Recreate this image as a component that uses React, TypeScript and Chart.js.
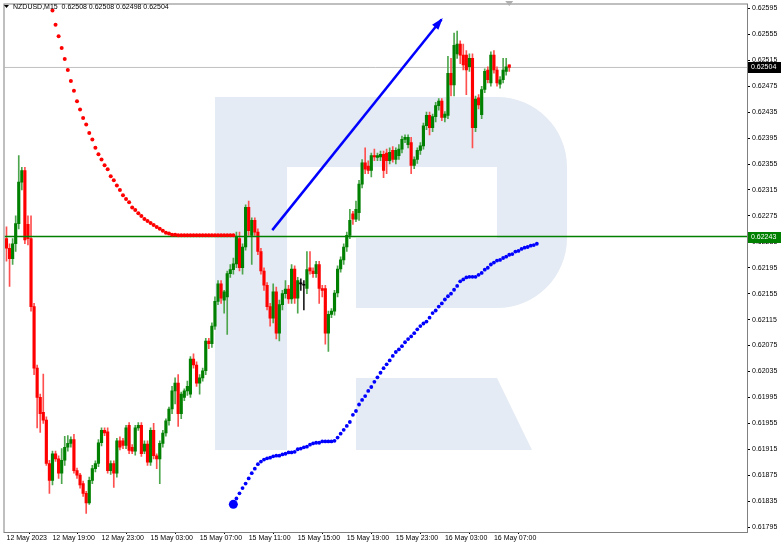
import React, { useEffect, useRef } from 'react';
import { Chart, registerables } from 'chart.js';

Chart.register(...registerables);

const symbolTitle = 'NZDUSD,M15';

const barOpen = [
  0.6224, 0.62225, 0.62209, 0.62232, 0.62263, 0.62327, 0.62345, 0.62262, 0.6224, 0.62135,
  0.6204, 0.61995, 0.61972, 0.6196, 0.61893, 0.61867, 0.61908, 0.619, 0.61878, 0.61898,
  0.61918, 0.61924, 0.6193, 0.61882, 0.61875, 0.61862, 0.61847, 0.61832, 0.61867, 0.61885,
  0.61893, 0.61925, 0.61944, 0.61942, 0.61882, 0.61893, 0.61878, 0.61928, 0.61928, 0.61921,
  0.61952, 0.61918, 0.61912, 0.61948, 0.61952, 0.61912, 0.61923, 0.61895, 0.61944, 0.61905,
  0.619, 0.61924, 0.6194, 0.61959, 0.61977, 0.62005, 0.62017, 0.6197, 0.61995, 0.62005,
  0.62, 0.62054, 0.62045, 0.62017, 0.62025, 0.62036, 0.62082, 0.62078, 0.62105, 0.62143,
  0.6217, 0.62145, 0.6215, 0.62186, 0.62192, 0.62201, 0.6224, 0.62195, 0.62227, 0.62288,
  0.62245, 0.62268, 0.6225, 0.6222, 0.6219, 0.62168, 0.62135, 0.62117, 0.62158, 0.62094,
  0.62138, 0.62155, 0.62162, 0.62147, 0.62193, 0.62148, 0.6217, 0.62168, 0.62163, 0.62195,
  0.6219, 0.62186, 0.622, 0.62163, 0.62163, 0.62094, 0.62123, 0.62128, 0.62156, 0.62193,
  0.62207, 0.62227, 0.62245, 0.62278, 0.6227, 0.6228, 0.62324, 0.62357, 0.62352, 0.62345,
  0.62368, 0.62365, 0.62366, 0.6237, 0.62372, 0.6236, 0.62376, 0.62362, 0.62368, 0.62378,
  0.62393, 0.62385, 0.62388, 0.62353, 0.62362, 0.62376, 0.62383, 0.62414, 0.6243, 0.62411,
  0.62428, 0.62445, 0.62452, 0.62427, 0.6243, 0.62495, 0.62477, 0.62525, 0.6254, 0.62523,
  0.62523, 0.62505, 0.62518, 0.62411, 0.62457, 0.62431, 0.6247, 0.625, 0.6248, 0.62523,
  0.625, 0.62478, 0.62485, 0.62498, 0.62508,
];

const barHigh = [
  0.62258, 0.62232, 0.6224, 0.62275, 0.62368, 0.6235, 0.6235, 0.62275, 0.62275, 0.6214,
  0.62045, 0.62, 0.62031, 0.61965, 0.61898, 0.61912, 0.61912, 0.61905, 0.61916, 0.61935,
  0.61936, 0.61934, 0.61938, 0.61886, 0.61878, 0.61866, 0.6185, 0.61872, 0.6189, 0.61897,
  0.6193, 0.61948, 0.61948, 0.61948, 0.61897, 0.61897, 0.61932, 0.61934, 0.61932, 0.61952,
  0.61956, 0.61922, 0.61952, 0.61956, 0.61956, 0.61928, 0.61928, 0.61948, 0.61955, 0.61908,
  0.61928, 0.61944, 0.61962, 0.6198, 0.62012, 0.62025, 0.6203, 0.62003, 0.62008, 0.6202,
  0.62058, 0.62062, 0.6205, 0.6203, 0.6204, 0.62086, 0.62086, 0.6211, 0.6215, 0.62175,
  0.62175, 0.6216, 0.6219, 0.622, 0.6221, 0.6225, 0.6225, 0.62232, 0.62292, 0.62298,
  0.62272, 0.62272, 0.62255, 0.62225, 0.62195, 0.62172, 0.6214, 0.6217, 0.62165, 0.62145,
  0.6216, 0.62175, 0.62168, 0.622, 0.62198, 0.6218, 0.62178, 0.62175, 0.6222, 0.6222,
  0.62195, 0.62205, 0.62205, 0.62168, 0.62168, 0.62128, 0.62132, 0.6216, 0.62198, 0.62212,
  0.62232, 0.6225, 0.62285, 0.62282, 0.62298, 0.6233, 0.62362, 0.6238, 0.6236, 0.62372,
  0.62378, 0.62372, 0.62375, 0.62375, 0.62378, 0.6238, 0.62382, 0.6238, 0.62385, 0.62398,
  0.624, 0.624, 0.62396, 0.62366, 0.6238, 0.62388, 0.62418, 0.62435, 0.62435, 0.62432,
  0.6245, 0.62456, 0.62456, 0.62436, 0.62521, 0.62518, 0.62557, 0.6256, 0.62545, 0.6254,
  0.6253, 0.62525, 0.62525, 0.6246, 0.62462, 0.62475, 0.62502, 0.62505, 0.62528, 0.6253,
  0.62505, 0.6249, 0.62518, 0.62518, 0.62508,
];

const barLow = [
  0.62205, 0.62166, 0.622, 0.6222, 0.62255, 0.62315, 0.62232, 0.6223, 0.62128, 0.6203,
  0.61948, 0.61941, 0.61955, 0.6189, 0.61847, 0.6186, 0.61896, 0.6187, 0.61862, 0.6189,
  0.61912, 0.61918, 0.61878, 0.6187, 0.61855, 0.61842, 0.61816, 0.6183, 0.61862, 0.6188,
  0.61888, 0.6192, 0.61936, 0.61878, 0.61876, 0.61856, 0.61872, 0.61914, 0.61916, 0.61916,
  0.61908, 0.61908, 0.61906, 0.61944, 0.61904, 0.61908, 0.6189, 0.6189, 0.619, 0.61885,
  0.61862, 0.61918, 0.61935, 0.61952, 0.6197, 0.61985, 0.6195, 0.61962, 0.6199, 0.61998,
  0.61995, 0.6204, 0.62012, 0.62, 0.6202, 0.6203, 0.6207, 0.62072, 0.621, 0.62138,
  0.6214, 0.62125, 0.62092, 0.6218, 0.62185, 0.62195, 0.6219, 0.62185, 0.62222, 0.62245,
  0.622, 0.62245, 0.62215, 0.62185, 0.6216, 0.6213, 0.62105, 0.6211, 0.62085, 0.62082,
  0.6213, 0.62148, 0.6214, 0.6214, 0.6214, 0.62125, 0.6216, 0.6213, 0.62155, 0.62185,
  0.6218, 0.6218, 0.6214, 0.6215, 0.62077, 0.62066, 0.62118, 0.62122, 0.6215, 0.62188,
  0.622, 0.6222, 0.6224, 0.62262, 0.62266, 0.62268, 0.62318, 0.6234, 0.6234, 0.62335,
  0.6236, 0.6236, 0.6236, 0.62334, 0.6234, 0.62355, 0.62358, 0.62355, 0.62362, 0.62372,
  0.62388, 0.6238, 0.6234, 0.62348, 0.62356, 0.6237, 0.62378, 0.62408, 0.624, 0.62405,
  0.6242, 0.62438, 0.62422, 0.6242, 0.62425, 0.6246, 0.6246, 0.62518, 0.6251, 0.625,
  0.62462, 0.62498, 0.6238, 0.62405, 0.6244, 0.62425, 0.62465, 0.6248, 0.62475, 0.62495,
  0.62475, 0.62472, 0.6248, 0.62492, 0.62498,
];

const barClose = [
  0.62225, 0.62209, 0.62232, 0.62263, 0.62327, 0.62345, 0.62238, 0.6224, 0.62135, 0.6204,
  0.61995, 0.6197, 0.6196, 0.61893, 0.61867, 0.61908, 0.619, 0.61878, 0.61898, 0.61918,
  0.61924, 0.6193, 0.61882, 0.61875, 0.6186, 0.61847, 0.61832, 0.61867, 0.61885, 0.61893,
  0.61925, 0.61944, 0.6194, 0.61882, 0.61893, 0.61878, 0.61928, 0.61918, 0.61921, 0.61948,
  0.61913, 0.61912, 0.61948, 0.61952, 0.61908, 0.61923, 0.61895, 0.61944, 0.61905, 0.619,
  0.61924, 0.6194, 0.61959, 0.61977, 0.62005, 0.62017, 0.6197, 0.62, 0.62005, 0.62012,
  0.62054, 0.62045, 0.62017, 0.62025, 0.62036, 0.62082, 0.62078, 0.62105, 0.62143, 0.6217,
  0.62148, 0.62158, 0.62186, 0.62192, 0.62201, 0.62243, 0.62195, 0.62227, 0.62288, 0.62252,
  0.62268, 0.6225, 0.6222, 0.6219, 0.62168, 0.62135, 0.62117, 0.62158, 0.62094, 0.62138,
  0.62155, 0.62162, 0.62147, 0.62193, 0.62148, 0.62175, 0.6217, 0.62168, 0.62192, 0.6219,
  0.62186, 0.622, 0.62163, 0.6216, 0.62094, 0.62123, 0.62128, 0.62156, 0.62193, 0.62207,
  0.62227, 0.62245, 0.62268, 0.6227, 0.62285, 0.62324, 0.62357, 0.62347, 0.62345, 0.62368,
  0.62366, 0.62368, 0.6237, 0.62345, 0.6236, 0.62373, 0.62362, 0.62376, 0.62378, 0.62393,
  0.62396, 0.62396, 0.62353, 0.62362, 0.62376, 0.62383, 0.62414, 0.6243, 0.62411, 0.62428,
  0.62445, 0.62452, 0.62427, 0.62432, 0.62495, 0.62477, 0.62538, 0.6254, 0.62523, 0.62508,
  0.625, 0.62518, 0.62411, 0.62455, 0.62446, 0.6247, 0.62498, 0.62485, 0.62523, 0.625,
  0.6248, 0.62485, 0.625, 0.62505, 0.62504,
];

const xTickBars = [0, 15, 31, 47, 63, 79, 95, 111, 127, 143, 159];
const xTickLabels = [
  '12 May 2023', '12 May 19:00', '12 May 23:00', '15 May 03:00', '15 May 07:00',
  '15 May 11:00', '15 May 15:00', '15 May 19:00', '15 May 23:00', '16 May 03:00', '16 May 07:00',
];

const yTickValues = [
  0.61795, 0.61835, 0.61875, 0.61915, 0.61955, 0.61995, 0.62035, 0.62075, 0.62115, 0.62155,
  0.62195, 0.62235, 0.62275, 0.62315, 0.62355, 0.62395, 0.62435, 0.62475, 0.62515, 0.62555, 0.62595,
];

const redStartBar = 15;
const redDots = [
  0.62592, 0.6257, 0.62552, 0.62534, 0.62517, 0.625, 0.62483, 0.62468, 0.62452, 0.62439,
  0.62426, 0.62416, 0.62403, 0.62393, 0.6238, 0.6237, 0.62362, 0.62353, 0.62347, 0.62336,
  0.6233, 0.62322, 0.62315, 0.62307, 0.62301, 0.62296, 0.62288, 0.62284, 0.62279, 0.62275,
  0.6227, 0.62267, 0.62264, 0.62261, 0.62258, 0.62255, 0.62252, 0.62249, 0.62248, 0.62246,
  0.62246, 0.62245, 0.62245, 0.62245, 0.62245, 0.62245, 0.62245, 0.62245, 0.62245, 0.62245,
  0.62245, 0.62245, 0.62245, 0.62245, 0.62245, 0.62245, 0.62245, 0.62245, 0.62245, 0.62245,
];

const blueStartBar = 74;
const blueDots = [
  0.6183, 0.61839, 0.61847, 0.61855, 0.61862, 0.6187, 0.61878, 0.61885, 0.61892, 0.61896,
  0.61899, 0.61901, 0.61902, 0.61904, 0.61905, 0.61905, 0.61907, 0.61908, 0.6191, 0.6191,
  0.61911, 0.61915, 0.61916, 0.61918, 0.61919, 0.61922, 0.61924, 0.61925, 0.61925, 0.61927,
  0.61927, 0.61927, 0.61927, 0.61928, 0.61933, 0.61939, 0.61945, 0.61951, 0.61957, 0.61968,
  0.61974, 0.61984, 0.61991, 0.61997, 0.62005, 0.62011, 0.62019, 0.62026, 0.62033, 0.6204,
  0.62046, 0.62052, 0.62059, 0.62065, 0.62069, 0.62074, 0.6208, 0.62085, 0.62089, 0.62094,
  0.621, 0.62105, 0.62109, 0.62112, 0.62118, 0.62125, 0.62129, 0.62135, 0.6214, 0.62146,
  0.62151, 0.62155, 0.62161, 0.62167, 0.62174, 0.62177, 0.6218, 0.62181, 0.62181, 0.62181,
  0.62184, 0.62187, 0.62192, 0.62195, 0.622, 0.62203, 0.62206, 0.62207, 0.6221, 0.62212,
  0.62215, 0.62216, 0.6222, 0.62221, 0.62224, 0.62226, 0.62227, 0.62229, 0.6223, 0.62232,
];

const levelPrice = 0.62243;
const lastPrice = 0.62504;
const arrowStart = { bar: 86.7, price: 0.62253 };
const arrowEnd = { bar: 141.9, price: 0.62578 };

const X_MIN = -0.65;
const X_MAX = 241.55;
const Y_MIN = 0.617873;
const Y_MAX = 0.626011;

const FONT = '"Liberation Sans", Arial, sans-serif';

export default function App() {
  const ref = useRef<HTMLCanvasElement>(null);

  useEffect(() => {
    const canvas = ref.current;
    if (!canvas) return;
    const idx = barOpen.map((_, i) => i);
    const bodyColor = idx.map((i) =>
      barClose[i] > barOpen[i] ? '#008000' : barClose[i] < barOpen[i] ? '#ff0000' : '#000000'
    );
    const wickColor = idx.map((i) =>
      barClose[i] > barOpen[i] ? '#4da64d' : barClose[i] < barOpen[i] ? '#ff5050' : '#202020'
    );

    const watermark = {
      id: 'watermark',
      beforeDatasetsDraw(chart: any) {
        const { ctx } = chart;
        ctx.save();
        ctx.fillStyle = '#e4ebf4';
        ctx.fillRect(215, 97, 72, 353);
        ctx.beginPath();
        ctx.moveTo(287, 97);
        ctx.lineTo(497, 97);
        ctx.arc(497, 167, 70, -Math.PI / 2, 0);
        ctx.lineTo(567, 238);
        ctx.arc(497, 238, 70, 0, Math.PI / 2);
        ctx.lineTo(356, 308);
        ctx.lineTo(356, 238);
        ctx.lineTo(497, 238);
        ctx.lineTo(497, 167);
        ctx.lineTo(287, 167);
        ctx.closePath();
        ctx.fill();
        ctx.beginPath();
        ctx.moveTo(356, 378);
        ctx.lineTo(497, 378);
        ctx.lineTo(532, 450);
        ctx.lineTo(356, 450);
        ctx.closePath();
        ctx.fill();
        ctx.restore();
      },
    };

    const overlay = {
      id: 'overlay',
      afterDatasetsDraw(chart: any) {
        const { ctx } = chart;
        const meta = chart.getDatasetMeta(chart.data.datasets.length - 1);
        const p0 = meta.data[0];
        const p1 = meta.data[1];
        if (p0 && p1) {
          const ang = Math.atan2(p1.y - p0.y, p1.x - p0.x);
          const len = 10;
          const hw = 4;
          ctx.save();
          ctx.fillStyle = '#0000ff';
          ctx.beginPath();
          ctx.moveTo(p1.x + Math.cos(ang) * 2, p1.y + Math.sin(ang) * 2);
          ctx.lineTo(
            p1.x - Math.cos(ang) * len - Math.sin(ang) * hw,
            p1.y - Math.sin(ang) * len + Math.cos(ang) * hw
          );
          ctx.lineTo(
            p1.x - Math.cos(ang) * len + Math.sin(ang) * hw,
            p1.y - Math.sin(ang) * len - Math.cos(ang) * hw
          );
          ctx.closePath();
          ctx.fill();
          ctx.restore();
        }
      },
      afterDraw(chart: any) {
        const { ctx, chartArea, scales } = chart;
        const ys = scales.y;
        const xs = scales.x;
        ctx.save();
        ctx.strokeStyle = '#808080';
        ctx.lineWidth = 1;
        ctx.strokeRect(
          chartArea.left - 0.5,
          chartArea.top - 0.5,
          chartArea.right - chartArea.left + 1,
          chartArea.bottom - chartArea.top + 1
        );
        const n = barOpen.length - 1;
        ctx.fillStyle = '#000';
        ctx.beginPath();
        ctx.moveTo(4, 5);
        ctx.lineTo(9, 5);
        ctx.lineTo(6.5, 8);
        ctx.closePath();
        ctx.fill();
        ctx.font = '7px ' + FONT;
        ctx.textBaseline = 'middle';
        ctx.textAlign = 'left';
        ctx.fillText(
          `${symbolTitle}  ${barOpen[n].toFixed(5)} ${barHigh[n].toFixed(5)} ${barLow[n].toFixed(5)} ${barClose[n].toFixed(5)}`,
          13,
          7.5
        );
        const sx = xs.getPixelForValue(n);
        ctx.fillStyle = '#b0b0b0';
        ctx.beginPath();
        ctx.moveTo(sx - 4, 1);
        ctx.lineTo(sx + 4, 1);
        ctx.lineTo(sx, 6);
        ctx.closePath();
        ctx.fill();
        const drawTag = (price: number, bg: string) => {
          const y = ys.getPixelForValue(price);
          ctx.fillStyle = bg;
          ctx.fillRect(chartArea.right + 1, Math.round(y) - 5, 33, 11);
          ctx.fillStyle = '#ffffff';
          ctx.font = '7px ' + FONT;
          ctx.textBaseline = 'middle';
          ctx.fillText(price.toFixed(5), chartArea.right + 4, Math.round(y) + 0.5);
        };
        drawTag(lastPrice, '#000000');
        drawTag(levelPrice, '#008000');
        ctx.restore();
      },
    };

    const chart = new Chart(canvas, {
      type: 'bar',
      data: {
        datasets: [
          {
            type: 'line',
            data: [
              { x: X_MIN, y: lastPrice },
              { x: X_MAX, y: lastPrice },
            ],
            borderColor: '#c0c0c0',
            borderWidth: 1,
            pointRadius: 0,
            order: 12,
          } as any,
          {
            type: 'bar',
            data: idx.map((i) => ({ x: i, y: [barLow[i], barHigh[i]] })),
            backgroundColor: wickColor,
            barThickness: 1,
            grouped: false,
            borderWidth: 0,
            order: 11,
          } as any,
          {
            type: 'bar',
            data: idx.map((i) => ({ x: i, y: [barOpen[i], barClose[i]] })),
            backgroundColor: bodyColor,
            barThickness: 2.5,
            minBarLength: 1,
            grouped: false,
            borderWidth: 0,
            order: 10,
          } as any,
          {
            type: 'line',
            data: [
              { x: X_MIN, y: levelPrice },
              { x: X_MAX, y: levelPrice },
            ],
            borderColor: '#008000',
            borderWidth: 1.5,
            pointRadius: 0,
            order: 9,
          } as any,
          {
            type: 'line',
            data: redDots.map((v, k) => ({ x: redStartBar + k, y: v })),
            showLine: false,
            pointRadius: 2,
            pointBackgroundColor: '#ff0000',
            pointBorderWidth: 0,
            order: 8,
          } as any,
          {
            type: 'line',
            data: blueDots.map((v, k) => ({ x: blueStartBar + k, y: v })),
            showLine: false,
            pointRadius: (c: any) => (c.dataIndex === 0 ? 4.5 : 1.9),
            pointBackgroundColor: '#0000ff',
            pointBorderWidth: 0,
            order: 7,
          } as any,
          {
            type: 'line',
            data: [
              { x: arrowStart.bar, y: arrowStart.price },
              { x: arrowEnd.bar, y: arrowEnd.price },
            ],
            borderColor: '#0000ff',
            borderWidth: 2.5,
            pointRadius: 0,
            order: 6,
          } as any,
        ],
      },
      options: {
        animation: false,
        responsive: false,
        events: [],
        layout: { padding: { left: 2, top: 1, right: 0, bottom: 0 } },
        plugins: { legend: { display: false }, tooltip: { enabled: false } },
        scales: {
          x: {
            type: 'linear',
            min: X_MIN,
            max: X_MAX,
            offset: false,
            grid: { display: true, drawOnChartArea: false, drawTicks: true, tickLength: 2, color: '#000' },
            border: { display: false },
            afterBuildTicks: (s: any) => {
              s.ticks = xTickBars.map((v) => ({ value: v }));
            },
            afterFit: (s: any) => {
              s.height = 15;
              s.paddingLeft = 0;
              s.paddingRight = 0;
            },
            ticks: {
              autoSkip: false,
              maxRotation: 0,
              minRotation: 0,
              align: 'start',
              padding: 0,
              color: '#000',
              font: { family: FONT, size: 7 },
              callback: (v: any) => {
                const k = xTickBars.indexOf(Number(v));
                return k >= 0 ? xTickLabels[k] : '';
              },
            },
          } as any,
          y: {
            type: 'linear',
            position: 'right',
            min: Y_MIN,
            max: Y_MAX,
            grid: { display: true, drawOnChartArea: false, drawTicks: true, tickLength: 3, color: '#000' },
            border: { display: false },
            afterBuildTicks: (s: any) => {
              s.ticks = yTickValues.map((v) => ({ value: v }));
            },
            afterFit: (s: any) => {
              s.width = 35;
              s.paddingTop = 0;
              s.paddingBottom = 0;
            },
            ticks: {
              padding: 2,
              color: '#000',
              font: { family: FONT, size: 7 },
              callback: (v: any) => Number(v).toFixed(5),
            },
          } as any,
        },
      },
      plugins: [watermark, overlay],
    });

    return () => chart.destroy();
  }, []);

  return (
    <canvas
      ref={ref}
      width={782}
      height={547}
      style={{ position: 'fixed', left: 0, top: 0, width: 782, height: 547, background: '#fff' }}
    />
  );
}
